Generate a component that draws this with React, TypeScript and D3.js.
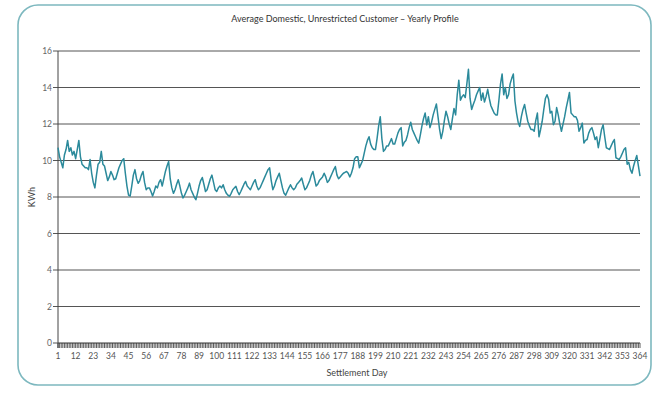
import React from 'react';
import * as d3 from 'd3';

// average daily consumption, settlement days 1..364
const kwh = [
  10.7, 10.2, 9.9, 9.6, 10.3, 10.6, 11.1, 10.5, 10.7, 10.3,
  10.5, 10.1, 10.6, 11.1, 10.2, 9.8, 9.7, 9.6, 9.6, 9.5,
  10.05, 9.3, 8.8, 8.5, 9.2, 9.8, 9.9, 10.5, 9.8, 9.7,
  9.3, 8.9, 9.1, 9.4, 9.2, 8.95, 9.0, 9.3, 9.6, 9.8,
  10.0, 10.1, 9.3, 8.6, 8.1, 8.05, 8.6, 9.2, 9.5, 9.0,
  8.75, 8.9, 9.2, 9.4, 8.8, 8.4, 8.5, 8.5, 8.3, 8.05,
  8.3, 8.6, 8.5, 8.8, 8.95, 8.6, 9.0, 9.4, 9.7, 9.95,
  9.0, 8.5, 8.2, 8.4, 8.7, 8.95, 8.6, 8.2, 7.95, 8.1,
  8.3, 8.5, 8.76, 8.4, 8.2, 8.0, 7.85, 8.2, 8.6, 8.9,
  9.07, 8.7, 8.3, 8.4, 8.7, 9.0, 9.2, 8.8, 8.4, 8.3,
  8.5, 8.6, 8.5, 8.67, 8.4, 8.2, 8.1, 8.04, 8.2, 8.4,
  8.5, 8.58, 8.3, 8.13, 8.3, 8.5, 8.7, 8.85, 8.6, 8.5,
  8.4, 8.6, 8.8, 8.95, 8.6, 8.4, 8.5, 8.7, 8.9, 9.1,
  9.3, 9.5, 9.6, 8.9, 8.4, 8.6, 8.9, 9.1, 9.3, 8.9,
  8.5, 8.2, 8.1, 8.3, 8.5, 8.67, 8.5, 8.4, 8.5, 8.7,
  8.8, 8.9, 9.04, 8.7, 8.4, 8.5, 8.7, 8.9, 9.2, 9.4,
  9.0, 8.6, 8.7, 8.9, 9.0, 9.1, 9.3, 9.1, 8.8, 8.9,
  9.1, 9.3, 9.5, 9.67, 9.2, 9.0, 9.1, 9.2, 9.3, 9.35,
  9.4, 9.3, 9.1, 9.3, 9.6, 10.1, 10.2, 10.2, 9.6, 9.8,
  10.0, 10.4, 10.8, 11.1, 11.3, 10.9, 10.7, 10.6, 10.6, 11.2,
  11.9, 12.4, 11.2, 10.5, 10.6, 10.8, 10.8, 11.0, 11.2, 10.9,
  10.9, 11.2, 11.5, 11.7, 11.8, 10.8, 11.0, 11.1, 11.4, 11.8,
  12.1, 11.7, 11.5, 11.3, 11.1, 10.95, 11.4, 11.9, 12.3, 12.6,
  11.95, 12.4, 11.8, 12.1, 12.5, 12.8, 13.1, 12.4, 11.7, 11.2,
  11.6, 12.2, 12.7, 12.4, 12.0, 11.7, 12.3, 12.85, 12.5, 13.6,
  14.4, 13.3, 13.5, 13.6, 13.45, 14.2, 15.0, 13.4, 12.8, 13.07,
  13.3, 13.6, 13.8, 14.0, 13.3, 13.7, 13.2, 13.5, 13.9, 13.4,
  13.0, 12.8, 12.6, 12.5, 12.5, 13.3, 14.2, 14.74, 13.6, 14.0,
  13.4, 13.6, 14.2, 14.5, 14.74, 13.26, 12.6, 12.1, 11.87, 12.4,
  12.8, 13.07, 12.6, 12.15, 11.9, 11.7, 11.7, 11.6, 12.2, 12.6,
  11.3, 11.7, 12.15, 12.8, 13.4, 13.6, 13.35, 12.6, 12.7, 11.96,
  12.15, 12.9, 12.5, 12.0, 11.6, 12.0, 12.4, 12.9, 13.3, 13.73,
  12.6, 12.5, 12.4, 12.4, 12.2, 11.6, 11.8, 12.05, 10.96, 11.1,
  11.15, 11.5, 11.7, 11.8, 11.5, 11.15, 11.3, 10.7, 11.2, 11.7,
  11.96, 11.3, 10.7, 10.65, 10.6, 10.8, 11.0, 11.15, 10.15, 10.1,
  10.05, 10.2, 10.4, 10.6, 10.7, 9.8, 9.9, 9.5, 9.3, 9.7,
  10.0, 10.27, 9.7, 9.15,
];
const days = kwh.map((_, i) => i + 1);
const yTicks = [0, 2, 4, 6, 8, 10, 12, 14, 16];
const xTickLabels = d3.range(1, 365, 11);

const title = 'Average Domestic, Unrestricted Customer \u2013 Yearly Profile';
const font = 'Lato, "Open Sans", sans-serif';

const App = () => {
  const width = 660;
  const height = 393;
  const margin = { left: 58, right: 20, top: 51, bottom: 50 };

  const x = d3.scaleLinear().domain([1, 364]).range([margin.left, width - margin.right]);
  const y = d3.scaleLinear().domain([0, 16]).range([height - margin.bottom, margin.top]);

  const line = d3.line<number>()
    .x((_, i) => x(days[i]))
    .y(d => y(d));

  return (
    <svg width={width} height={height}
      style={{ position: 'absolute', left: 0, top: 0, background: '#fff' }}>
      <rect x={18} y={5} width={633} height={380} rx={20} ry={20}
        fill="none" stroke="#7db8bf" strokeWidth={1.6} />
      <text x={345} y={22} textAnchor="middle" fontSize={9} fontFamily={font} fill="#333">
        {title}
      </text>

      {/* gridlines + y ticks */}
      {yTicks.map(t => (
        <g key={t}>
          <line x1={margin.left} x2={x(364)} y1={y(t)} y2={y(t)}
            stroke={t === 0 ? '#333' : '#555'} strokeWidth={1} />
          <line x1={margin.left - 5} x2={margin.left} y1={y(t)} y2={y(t)} stroke="#555" />
          <text x={margin.left - 6} y={y(t) + 3} textAnchor="end" fontSize={8.5}
            fontFamily={font} fill="#666">{t}</text>
        </g>
      ))}
      <line x1={margin.left} x2={margin.left} y1={y(16)} y2={y(0) + 5} stroke="#444" />

      {/* one tick per settlement day */}
      {days.map(d => (
        <line key={d} x1={x(d)} x2={x(d)} y1={y(0)} y2={y(0) + 5}
          stroke="#333" strokeWidth={0.8} />
      ))}
      {xTickLabels.map(d => (
        <text key={d} x={x(d)} y={359} textAnchor="middle" fontSize={8.5}
          fontFamily={font} fill="#555">{d}</text>
      ))}

      <path d={line(kwh) ?? ''} fill="none" stroke="#2b8a9b" strokeWidth={1.5}
        strokeLinejoin="round" />

      <text x={357} y={376} textAnchor="middle" fontSize={9} fontFamily={font} fill="#444">
        Settlement Day
      </text>
      <text transform="translate(35,197) rotate(-90)" textAnchor="middle" fontSize={9}
        fontFamily={font} fill="#444">KWh</text>
    </svg>
  );
};

export default App;
